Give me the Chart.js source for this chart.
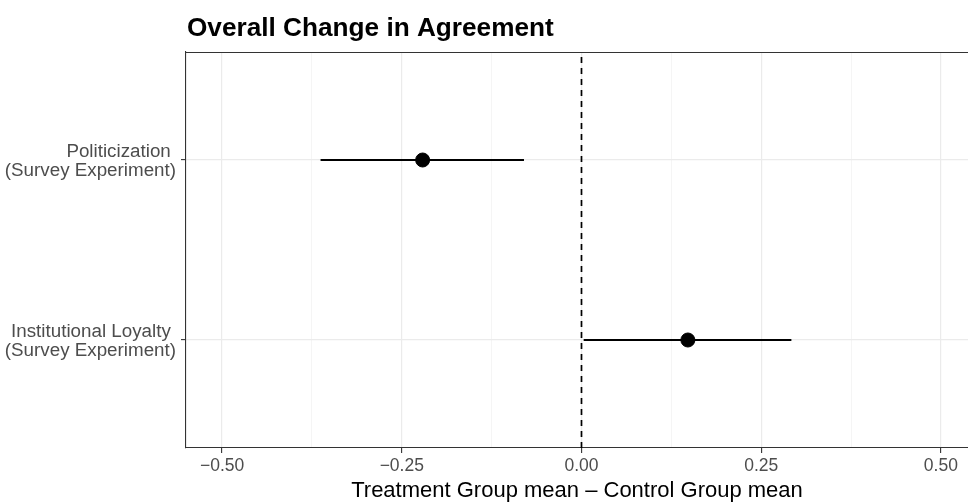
<!DOCTYPE html>
<html>
<head>
<meta charset="utf-8">
<script src="https://cdn.jsdelivr.net/npm/chart.js@4/dist/chart.umd.min.js"></script>
<style>
  html, body { margin: 0; padding: 0; background: #ffffff; overflow: hidden; }
  #wrap { width: 968px; height: 502px; }
</style>
</head>
<body>
<div id="wrap"><canvas id="c" width="968" height="502"></canvas></div>
<script>
// Rows, listed top to bottom
const rowLabels = [
  ['Politicization ', '(Survey Experiment)'],
  ['Institutional Loyalty ', '(Survey Experiment)']
];
// Difference in means and its interval for each row
const estimates = [-0.221, 0.148];
const ciLow = [-0.363, 0.003];
const ciHigh = [-0.080, 0.292];
// Labelled x ticks and the minor grid between them
const xTicks = [-0.5, -0.25, 0, 0.25, 0.5];
const xMinor = [-0.375, -0.125, 0.125, 0.375];

const FONT = '"Liberation Sans", Arial, Helvetica, sans-serif';
const nRows = rowLabels.length;
const rowY = i => nRows - i;   // first row sits at the top

const isMajor = v => xTicks.some(t => Math.abs(t - v) < 1e-9);
const fmt = v => (v < 0 ? '\u2212' : '') + Math.abs(v).toFixed(2);

const intervalSets = rowLabels.map((_, i) => ({
  type: 'line',
  data: [{ x: ciLow[i], y: rowY(i) }, { x: ciHigh[i], y: rowY(i) }],
  borderColor: '#000000',
  borderWidth: 2,
  pointRadius: 0,
  showLine: true,
  order: 1
}));

const pointSet = {
  type: 'scatter',
  data: estimates.map((v, i) => ({ x: v, y: rowY(i) })),
  backgroundColor: '#000000',
  borderColor: '#000000',
  pointRadius: 7,
  pointHoverRadius: 7,
  order: 0
};

const zeroSet = {
  type: 'line',
  data: [{ x: 0, y: 0.4 }, { x: 0, y: nRows + 0.6 }],
  borderColor: '#000000',
  borderWidth: 1.7,
  borderDash: [6, 5],
  pointRadius: 0,
  showLine: true,
  order: 2
};

// Panel top edge and the plot title
const framePlugin = {
  id: 'frame',
  afterDraw(chart) {
    const { ctx, chartArea } = chart;
    ctx.save();
    ctx.strokeStyle = '#333333';
    ctx.lineWidth = 1.1;
    ctx.beginPath();
    ctx.moveTo(chartArea.left, chartArea.top + 0.5);
    ctx.lineTo(chartArea.right, chartArea.top + 0.5);
    ctx.stroke();
    ctx.fillStyle = '#000000';
    ctx.font = 'bold 26.2px ' + FONT;
    ctx.textAlign = 'left';
    ctx.textBaseline = 'alphabetic';
    ctx.fillText('Overall Change in Agreement', chartArea.left + 1, 35.5);
    ctx.restore();
  }
};

new Chart(document.getElementById('c'), {
  type: 'scatter',
  data: { datasets: [pointSet, ...intervalSets, zeroSet] },
  plugins: [framePlugin],
  options: {
    responsive: false,
    devicePixelRatio: 1,
    animation: false,
    events: [],
    layout: { autoPadding: false, padding: { top: 52, right: 0, bottom: 0, left: 0 } },
    plugins: { legend: { display: false }, tooltip: { enabled: false }, title: { display: false } },
    scales: {
      x: {
        type: 'linear',
        min: -0.5502,
        max: 0.5377,
        afterBuildTicks(scale) {
          scale.ticks = [...xTicks, ...xMinor].sort((a, b) => a - b).map(v => ({ value: v }));
        },
        afterFit(scale) {
          scale.height = 54;
          scale.paddingLeft = 0;
          scale.paddingRight = 0;
        },
        ticks: {
          autoSkip: false,
          maxRotation: 0,
          padding: 3,
          color: '#4d4d4d',
          font: { family: FONT, size: 17.5 },
          callback: v => isMajor(v) ? fmt(v) : ''
        },
        grid: {
          color: c => isMajor(c.tick.value) ? '#ebebeb' : '#f3f3f3',
          lineWidth: c => isMajor(c.tick.value) ? 1.2 : 0.8,
          tickColor: c => isMajor(c.tick.value) ? '#333333' : 'rgba(0,0,0,0)',
          tickLength: 5,
          tickWidth: 1.1
        },
        border: { display: true, color: '#333333', width: 1.1 },
        title: {
          display: true,
          text: 'Treatment Group mean \u2013 Control Group mean',
          color: '#000000',
          font: { family: FONT, size: 22, lineHeight: 1.05 },
          padding: { top: 0, bottom: 0 }
        }
      },
      y: {
        type: 'linear',
        min: 0.4,
        max: nRows + 0.6,
        afterBuildTicks(scale) {
          scale.ticks = rowLabels.map((_, i) => ({ value: rowY(i) }));
        },
        afterFit(scale) {
          scale.width = 186;
          scale.paddingTop = 0;
          scale.paddingBottom = 0;
        },
        ticks: {
          padding: 5,
          labelOffset: 1.5,
          color: '#4d4d4d',
          font: { family: FONT, size: 18.8, lineHeight: 1.0 },
          callback: v => {
            const i = nRows - v;
            return rowLabels[i] || '';
          }
        },
        grid: {
          color: '#ebebeb',
          lineWidth: 1.2,
          tickColor: '#333333',
          tickLength: 5,
          tickWidth: 1.1
        },
        border: { display: true, color: '#333333', width: 1.1 }
      }
    }
  }
});
</script>
</body>
</html>
